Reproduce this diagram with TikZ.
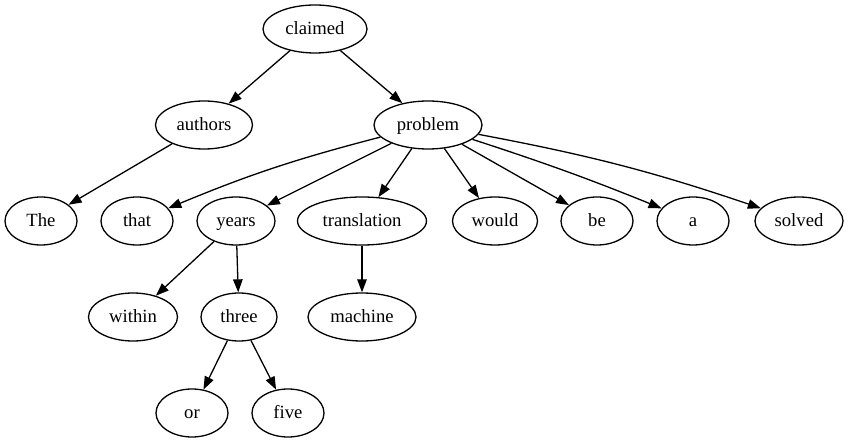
\documentclass[tikz,border=0pt]{standalone}
\usepackage{fontspec}
\setmainfont{Liberation Serif}
\usetikzlibrary{arrows.meta,shapes.geometric}
\newcommand\mb[1]{\makebox[0pt]{#1}}
\begin{document}
\begin{tikzpicture}[x=1pt,y=-1pt,
  nd/.style={draw,ellipse,line width=1.3pt,inner sep=0pt,minimum height=48pt,text height=13.5pt,text depth=2.5pt,font=\fontsize{18.67}{22}\selectfont},
  ed/.style={line width=1.3pt,-{Triangle[length=13pt,width=9.5pt]}}]
\useasboundingbox (0,0) rectangle (848,443);
\node[nd,minimum width=104pt] (claimed) at (315,29) {\mb{claimed}};
\node[nd,minimum width=97pt] (authors) at (204,125) {\mb{authors}};
\node[nd,minimum width=108pt] (problem) at (428,125) {\mb{problem}};
\node[nd,minimum width=72pt] (The) at (41,221) {\mb{The}};
\node[nd,minimum width=72pt] (that) at (137,221) {\mb{that}};
\node[nd,minimum width=78pt] (years) at (236,221) {\mb{years}};
\node[nd,minimum width=129pt] (translation) at (362,221) {\mb{translation}};
\node[nd,minimum width=85pt] (would) at (495,221) {\mb{would}};
\node[nd,minimum width=72pt] (be) at (597,221) {\mb{be}};
\node[nd,minimum width=72pt] (a) at (693,221) {\mb{a}};
\node[nd,minimum width=88pt] (solved) at (799,221) {\mb{solved}};
\node[nd,minimum width=89pt] (within) at (133,317) {\mb{within}};
\node[nd,minimum width=76pt] (three) at (239,317) {\mb{three}};
\node[nd,minimum width=108pt] (machine) at (362,317) {\mb{machine}};
\node[nd,minimum width=72pt] (or) at (192,413) {\mb{or}};
\node[nd,minimum width=72pt] (five) at (288,413) {\mb{five}};
\draw[ed] (claimed) -- (authors);
\draw[ed] (claimed) -- (problem);
\draw[ed] (authors) -- (The);
\draw[ed] (problem) to[bend right=4] (that);
\draw[ed] (problem) -- (years);
\draw[ed] (problem) -- (translation);
\draw[ed] (problem) -- (would);
\draw[ed] (problem) -- (be);
\draw[ed] (problem) to[bend left=2] (a);
\draw[ed] (problem) to[bend left=4] (solved);
\draw[ed] (years) -- (within);
\draw[ed] (years) -- (three);
\draw[ed] (translation) -- (machine);
\draw[ed] (three) -- (or);
\draw[ed] (three) -- (five);
\end{tikzpicture}
\end{document}
